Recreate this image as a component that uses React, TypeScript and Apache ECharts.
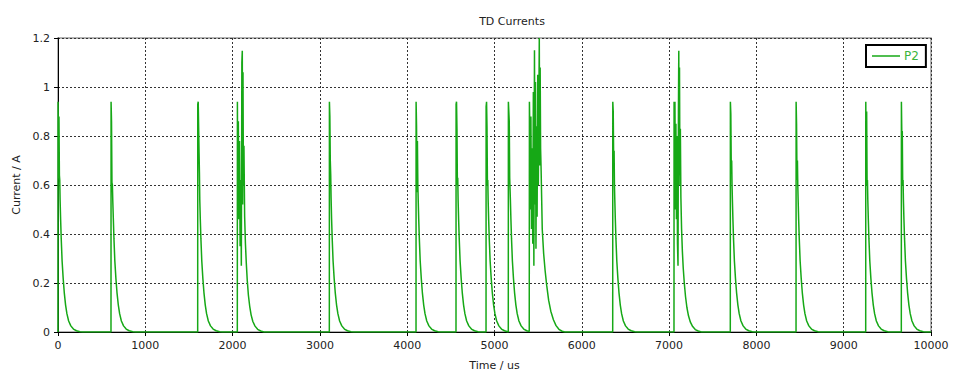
import React, { useEffect, useRef } from "react";
import * as echarts from "echarts";

const chartTitle = "TD Currents";
const seriesName = "P2";
const xAxisName = "Time / us";
const yAxisName = "Current / A";
const xTicks = [0, 1000, 2000, 3000, 4000, 5000, 6000, 7000, 8000, 9000, 10000];
const yTicks = [0, 0.2, 0.4, 0.6, 0.8, 1, 1.2];

// [time (us), current (A)], pulse by pulse
const pulse01 = [[0,0],[1,0.94],[6,0.73],[11,0.88],[16,0.64],[20,0.62],[24,0.54],[30,0.46],[37,0.38],[47,0.29],[59,0.22],[72,0.16],[87,0.11],[102,0.075],[122,0.045],[147,0.025],[177,0.012],[212,0.005],[252,0.001],[282,0]];
const pulse02 = [[607,0],[608,0.94],[613,0.86],[618,0.61],[623,0.6],[628,0.53],[634,0.46],[641,0.38],[651,0.29],[663,0.22],[676,0.16],[691,0.11],[706,0.075],[726,0.045],[751,0.025],[781,0.012],[816,0.005],[856,0.001],[886,0]];
const pulse03 = [[1600,0],[1601,0.93],[1606,0.94],[1611,0.94],[1616,0.73],[1620,0.65],[1624,0.54],[1630,0.46],[1637,0.38],[1647,0.29],[1659,0.22],[1672,0.16],[1687,0.11],[1702,0.075],[1722,0.045],[1747,0.025],[1777,0.012],[1812,0.005],[1852,0.001],[1882,0]];
const pulse04 = [[2054,0],[2055,0.94],[2060,0.55],[2066,0.86],[2072,0.46],[2079,0.78],[2086,0.35],[2093,0.62],[2100,0.27],[2106,1.1],[2111,1.148],[2115,0.52],[2119,1.06],[2124,0.6],[2130,0.76],[2138,0.47],[2147,0.36],[2157,0.28],[2168,0.21],[2181,0.15],[2196,0.105],[2212,0.07],[2232,0.043],[2257,0.024],[2287,0.011],[2322,0.004],[2360,0]];
const pulse05 = [[3108,0],[3109,0.94],[3114,0.88],[3119,0.7],[3124,0.64],[3128,0.55],[3134,0.46],[3141,0.38],[3151,0.29],[3163,0.22],[3176,0.16],[3191,0.11],[3206,0.075],[3226,0.045],[3251,0.025],[3281,0.012],[3316,0.005],[3356,0.001],[3386,0]];
const pulse06 = [[4101,0],[4102,0.94],[4107,0.84],[4112,0.57],[4117,0.78],[4122,0.6],[4126,0.54],[4132,0.46],[4139,0.38],[4149,0.29],[4161,0.22],[4174,0.16],[4189,0.11],[4204,0.075],[4224,0.045],[4249,0.025],[4279,0.012],[4314,0.005],[4354,0.001],[4384,0]];
const pulse07 = [[4559,0],[4560,0.93],[4565,0.94],[4570,0.83],[4575,0.6],[4579,0.63],[4583,0.54],[4589,0.46],[4596,0.38],[4606,0.29],[4618,0.22],[4631,0.16],[4646,0.11],[4661,0.075],[4681,0.045],[4706,0.025],[4736,0.012],[4771,0.005],[4811,0.001],[4841,0]];
const pulse08 = [[4903,0],[4904,0.92],[4909,0.94],[4914,0.84],[4919,0.6],[4923,0.62],[4927,0.54],[4933,0.46],[4940,0.38],[4950,0.29],[4962,0.22],[4975,0.16],[4990,0.11],[5005,0.075],[5025,0.045],[5050,0.025],[5080,0.012],[5115,0.005],[5150,0.001]];
const pulse09 = [[5158,0],[5159,0.94],[5164,0.94],[5169,0.86],[5174,0.63],[5178,0.63],[5182,0.54],[5188,0.46],[5195,0.38],[5205,0.29],[5217,0.22],[5230,0.16],[5245,0.11],[5260,0.075],[5280,0.045],[5305,0.025],[5335,0.012],[5370,0.005],[5398,0.002]];
const pulse10 = [[5399,0],[5400,0.94],[5405,0.82],[5411,0.5],[5417,0.88],[5424,0.42],[5431,0.75],[5438,0.36],[5445,0.98],[5451,0.27],[5458,1.15],[5463,0.52],[5469,1.02],[5475,0.34],[5481,0.84],[5488,0.47],[5495,1.05],[5502,0.6],[5508,0.9],[5513,1.2],[5518,0.68],[5523,1.08],[5528,0.75],[5534,0.66],[5547,0.42],[5563,0.32],[5580,0.25],[5598,0.19],[5620,0.13],[5645,0.085],[5675,0.05],[5705,0.026],[5738,0.011],[5775,0.003],[5805,0]];
const pulse11 = [[6354,0],[6355,0.94],[6360,0.9],[6365,0.7],[6370,0.74],[6374,0.6],[6378,0.54],[6384,0.46],[6391,0.38],[6401,0.29],[6413,0.22],[6426,0.16],[6441,0.11],[6456,0.075],[6476,0.045],[6501,0.025],[6531,0.012],[6566,0.005],[6606,0.001],[6636,0]];
const pulse12 = [[7056,0],[7057,0.94],[7062,0.66],[7067,0.94],[7072,0.5],[7078,0.85],[7084,0.46],[7090,0.8],[7096,0.36],[7102,0.27],[7107,0.9],[7111,1.148],[7115,0.6],[7119,1.08],[7124,0.64],[7129,0.83],[7135,0.55],[7143,0.42],[7152,0.33],[7162,0.26],[7174,0.2],[7188,0.145],[7204,0.1],[7222,0.066],[7244,0.04],[7270,0.022],[7300,0.01],[7334,0.004],[7370,0]];
const pulse13 = [[7701,0],[7702,0.94],[7707,0.89],[7712,0.68],[7717,0.7],[7721,0.6],[7725,0.54],[7731,0.46],[7738,0.38],[7748,0.29],[7760,0.22],[7773,0.16],[7788,0.11],[7803,0.075],[7823,0.045],[7848,0.025],[7878,0.012],[7913,0.005],[7953,0.001],[7983,0]];
const pulse14 = [[8454,0],[8455,0.94],[8460,0.85],[8465,0.62],[8470,0.7],[8474,0.6],[8478,0.54],[8484,0.46],[8491,0.38],[8501,0.29],[8513,0.22],[8526,0.16],[8541,0.11],[8556,0.075],[8576,0.045],[8601,0.025],[8631,0.012],[8666,0.005],[8706,0.001],[8736,0]];
const pulse15 = [[9252,0],[9253,0.94],[9258,0.68],[9263,0.9],[9268,0.6],[9272,0.62],[9276,0.54],[9282,0.46],[9289,0.38],[9299,0.29],[9311,0.22],[9324,0.16],[9339,0.11],[9354,0.075],[9374,0.045],[9399,0.025],[9429,0.012],[9464,0.005],[9504,0.001],[9534,0]];
const pulse16 = [[9660,0],[9661,0.94],[9666,0.8],[9671,0.82],[9676,0.6],[9680,0.62],[9684,0.54],[9690,0.46],[9697,0.38],[9707,0.29],[9719,0.22],[9732,0.16],[9747,0.11],[9762,0.075],[9782,0.045],[9807,0.025],[9837,0.012],[9872,0.005],[9912,0.001],[9942,0],[10000,0]];

const pulses = [pulse01, pulse02, pulse03, pulse04, pulse05, pulse06, pulse07, pulse08, pulse09, pulse10, pulse11, pulse12, pulse13, pulse14, pulse15, pulse16];

const FONT = "DejaVu Sans";

export default function App() {
  const ref = useRef<HTMLDivElement>(null);
  useEffect(() => {
    if (!ref.current) return;
    const chart = echarts.init(ref.current, undefined, { renderer: "svg" });
    const data = pulses.flat();
    const xInterval = xTicks[1] - xTicks[0];
    const yInterval = yTicks[1] - yTicks[0];
    chart.setOption({
      animation: false,
      backgroundColor: "#fff",
      title: {
        text: chartTitle,
        left: 507,
        top: 11,
        textAlign: "center",
        textStyle: { fontFamily: FONT, fontSize: 11, fontWeight: "normal", color: "#222" },
      },
      legend: {
        data: [seriesName],
        left: 866,
        top: 45,
        orient: "horizontal",
        borderColor: "#000",
        borderWidth: 2,
        padding: [5, 7, 5, 6],
        itemWidth: 28,
        itemHeight: 1.5,
        itemGap: 0,
        icon: "rect",
        textStyle: { fontFamily: FONT, fontSize: 12, color: "#3cb43c", padding: [0, 0, 0, -1] },
      },
      grid: {
        left: 58,
        right: 29,
        top: 38,
        bottom: 44,
        show: true,
        borderColor: "#9a9a9a",
        borderWidth: 1.5,
        backgroundColor: "#fff",
        outerBoundsMode: "none",
      },
      xAxis: {
        type: "value",
        min: xTicks[0],
        max: xTicks[xTicks.length - 1],
        interval: xInterval,
        name: xAxisName,
        nameLocation: "middle",
        nameGap: 28,
        nameTextStyle: { fontFamily: FONT, fontSize: 11, color: "#222" },
        axisLine: { lineStyle: { color: "#000", width: 1 } },
        axisTick: { show: true, inside: false, length: 4, lineStyle: { color: "#000" } },
        axisLabel: {
          fontFamily: FONT,
          fontSize: 11,
          color: "#222",
          margin: 8,
          formatter: (v: number) => String(v),
        },
        splitLine: { show: true, lineStyle: { color: "#333", type: [2, 2], width: 1 } },
      },
      yAxis: {
        type: "value",
        min: yTicks[0],
        max: yTicks[yTicks.length - 1],
        interval: yInterval,
        name: yAxisName,
        nameLocation: "middle",
        nameGap: 32,
        nameTextStyle: { fontFamily: FONT, fontSize: 11, color: "#222" },
        axisLine: { show: true, lineStyle: { color: "#000", width: 1 } },
        axisTick: { show: true, inside: false, length: 4, lineStyle: { color: "#000" } },
        axisLabel: {
          fontFamily: FONT,
          fontSize: 11,
          color: "#222",
          margin: 8,
          formatter: (v: number) => String(Math.round(v * 10) / 10),
        },
        splitLine: { show: true, lineStyle: { color: "#333", type: [2, 2], width: 1 } },
      },
      series: [
        {
          name: seriesName,
          type: "line",
          data,
          symbol: "none",
          showSymbol: false,
          clip: true,
          lineStyle: { color: "#16a816", width: 1.5 },
          itemStyle: { color: "#16a816" },
        },
      ],
    });
    return () => chart.dispose();
  }, []);
  return <div ref={ref} style={{ width: 960, height: 376, position: "absolute", left: 0, top: 0 }} />;
}
